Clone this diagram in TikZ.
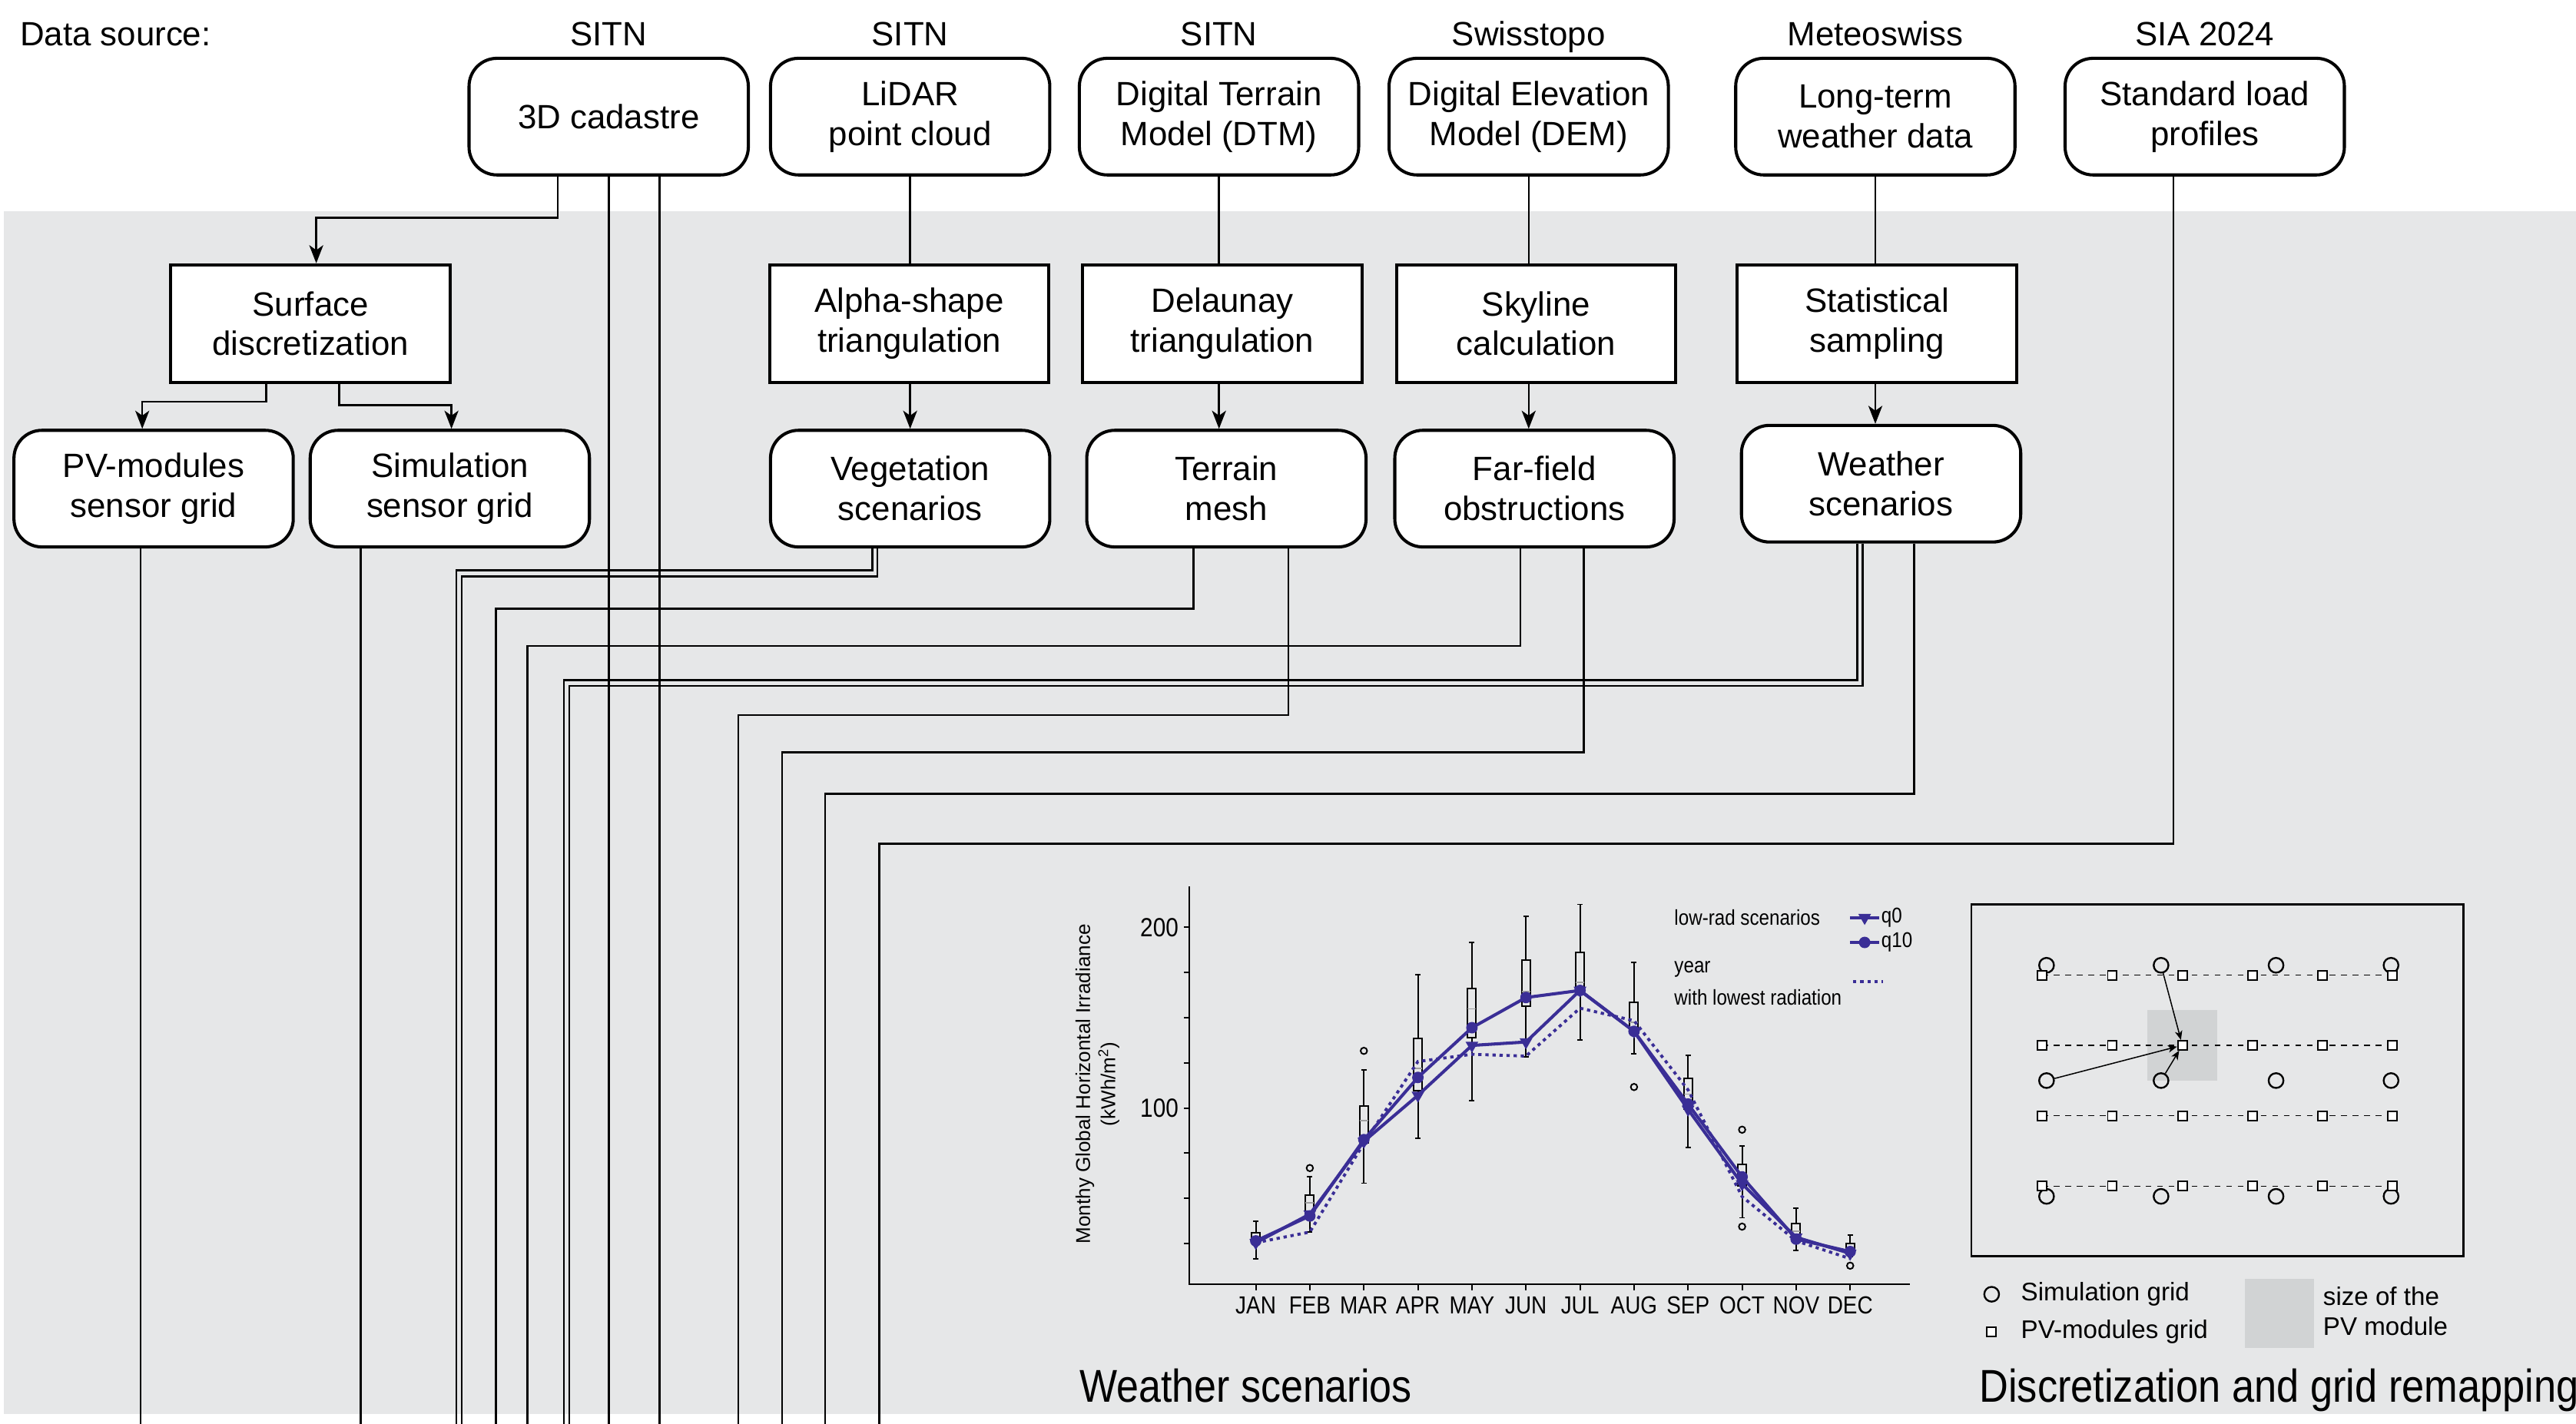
\documentclass[tikz,border=0pt]{standalone}
\usepackage{fontspec}
\setmainfont{Liberation Sans}
\usetikzlibrary{arrows.meta,shapes.geometric}
\definecolor{bgc}{HTML}{E6E7E8}
\definecolor{modc}{HTML}{D1D3D4}
\definecolor{serc}{HTML}{3A2E96}
\definecolor{medc}{HTML}{A0A0A0}
\newcommand\fsMain{\fontsize{20.5}{24.2}\selectfont}
\newcommand\fsTick{\fontsize{16}{18}\selectfont}
\newcommand\fsMon{\fontsize{15}{17}\selectfont}
\newcommand\fsLeg{\fontsize{13}{15}\selectfont}
\newcommand\fsGl{\fontsize{15.5}{18}\selectfont}
\newcommand\fsTitle{\fontsize{28}{32}\selectfont}
\newcommand\fsYl{\fontsize{12.2}{15.3}\selectfont}
\newcommand\narrow[1]{\scalebox{0.87}[1]{#1}}
% boxplot: month, whisker low, box low, median, box high, whisker high
\newcommand\bxplot[6]{%
  \draw[whisk] (#1,#2) -- (#1,#3) (#1,#5) -- (#1,#6)
        (#1-0.05,#2) -- (#1+0.05,#2) (#1-0.05,#6) -- (#1+0.05,#6);
  \draw[bxs] (#1-0.078,#3) rectangle (#1+0.078,#5);
  \draw[medline] (#1-0.078,#4) -- (#1+0.078,#4);}
\tikzset{
  src/.style={draw, line width=1.9pt, rounded corners=17pt, fill=white,
    minimum width=170pt, minimum height=71pt, align=center, font=\fsMain, inner sep=0pt},
  proc/.style={draw, line width=1.9pt, fill=white,
    minimum width=170pt, minimum height=71.5pt, align=center, font=\fsMain, inner sep=0pt},
  lbl/.style={font=\fsMain, inner sep=0pt},
  conn/.style={line width=1.2pt},
  arr/.style={conn, -{Stealth[length=11pt,width=8.5pt,inset=3pt]}},
  whisk/.style={line width=0.9pt},
  bxs/.style={line width=0.9pt},
  medline/.style={line width=0.8pt, medc},
  ser/.style={line width=1.9pt, serc},
  serdot/.style={line width=1.8pt, serc, dash pattern=on 2pt off 2.3pt},
  tri/.style={regular polygon, regular polygon sides=3, shape border rotate=180,
    fill=serc, minimum size=9pt, inner sep=0pt},
  dot/.style={circle, fill=serc, minimum size=7pt, inner sep=0pt},
  outl/.style={line width=0.9pt},
  sq/.style={draw, fill=white, line width=0.9pt, minimum size=5.6pt, inner sep=0pt, shape=rectangle},
  ci/.style={draw, circle, line width=1.1pt, minimum size=9pt, inner sep=0pt},
  gdash/.style={line width=0.6pt, dash pattern=on 3.5pt off 3.5pt},
  garr/.style={line width=0.7pt, -{Stealth[length=5.5pt,width=4.5pt,inset=1.5pt]}},
}
\begin{document}
\begin{tikzpicture}[x=1pt,y=-1pt]
\useasboundingbox (0,0) rectangle (1568,867);
\fill[bgc] (2.2,128.5) rectangle (1568,861);

% ---------- top row: data sources ----------
\node[lbl, anchor=base west] (dsrc) at (12,28) {Data source:};
\node[src] (cad) at (370.5,71) {3D cadastre};
\node[src] (lidar) at (554,71) {LiDAR\\point cloud};
\node[src] (dtm) at (742,71) {Digital Terrain\\Model (DTM)};
\node[src] (dem) at (930.5,71) {Digital Elevation\\Model (DEM)};
\node[src] (wdata) at (1141.5,71) {Long-term\\weather data};
\node[src] (sia) at (1342,71) {Standard load\\profiles};
\node[lbl, anchor=base] (lcad) at (370.5,28) {SITN};
\node[lbl, anchor=base] (llid) at (554,28) {SITN};
\node[lbl, anchor=base] (ldtm) at (742,28) {SITN};
\node[lbl, anchor=base] (ldem) at (930.5,28) {Swisstopo};
\node[lbl, anchor=base] (lwd) at (1141.5,28) {Meteoswiss};
\node[lbl, anchor=base] (lsia) at (1342,28) {SIA 2024};

% ---------- middle row: processing ----------
\node[proc] (surf) at (189,197) {Surface\\discretization};
\node[proc] (alpha) at (553.5,197) {Alpha-shape\\triangulation};
\node[proc] (dela) at (744,197) {Delaunay\\triangulation};
\node[proc] (sky) at (935,197) {Skyline\\calculation};
\node[proc] (stat) at (1142.5,197) {Statistical\\sampling};

% ---------- third row: products ----------
\node[src] (pv) at (93.5,297.5) {PV-modules\\sensor grid};
\node[src] (sim) at (273.8,297.5) {Simulation\\sensor grid};
\node[src] (veg) at (554,297.5) {Vegetation\\scenarios};
\node[src] (ter) at (746.5,297.5) {Terrain\\mesh};
\node[src] (far) at (934,297.5) {Far-field\\obstructions};
\node[src] (wsc) at (1145,294.5) {Weather\\scenarios};

% ---------- connector helper coordinates ----------
\coordinate (bot) at (0,867);
\coordinate (kc) at (192.5,132.5);
\coordinate (kp) at (86.6,244.6);
\coordinate (ks) at (274.8,246.6);
\coordinate (kv1) at (277.7,347.3);
\coordinate (kv2) at (281,351);
\coordinate (kt1) at (301.9,370.7);
\coordinate (kf1) at (321,393.3);
\coordinate (kw1) at (343.3,414);
\coordinate (kw2) at (346.6,417.5);
\coordinate (kt2) at (449.3,435.4);
\coordinate (kf2) at (476,458);
\coordinate (kw3) at (502.3,483.2);
\coordinate (ksia) at (535.3,513.6);
\coordinate (epv) at (85.5,867);
\coordinate (esim) at (219.5,867);
\coordinate (ec1) at (370.5,867);
\coordinate (ec2) at (401.5,867);

\draw[arr] ([xshift=-31pt]cad.south) |- (kc) -- (kc |- surf.north);
\draw[arr] ([xshift=-27pt]surf.south) |- (kp) -- (kp |- pv.north);
\draw[arr] ([xshift=17.5pt]surf.south) |- (ks) -- (ks |- sim.north);
\draw[conn] (lidar.south) -- (lidar.south |- alpha.north);
\draw[arr] (alpha.south -| lidar.south) -- (lidar.south |- veg.north);
\draw[conn] (dtm.south) -- (dtm.south |- dela.north);
\draw[arr] (dela.south -| dtm.south) -- (dtm.south |- ter.north);
\draw[conn] (dem.south) -- (dem.south |- sky.north);
\draw[arr] (sky.south -| dem.south) -- (dem.south |- far.north);
\draw[conn] (wdata.south) -- (wdata.south |- stat.north);
\draw[arr] (stat.south -| wdata.south) -- (wdata.south |- wsc.north);

\draw[conn] (pv.south -| epv) -- (epv);
\draw[conn] (sim.south -| esim) -- (esim);
\draw[conn] (cad.south -| ec1) -- (ec1);
\draw[conn] (cad.south -| ec2) -- (ec2);
\draw[conn] ([xshift=-23pt]veg.south) |- (kv1) -- (kv1 |- bot);
\draw[conn] ([xshift=-20pt]veg.south) |- (kv2) -- (kv2 |- bot);
\draw[conn] ([xshift=-20pt]ter.south) |- (kt1) -- (kt1 |- bot);
\draw[conn] ([xshift=-8.6pt]far.south) |- (kf1) -- (kf1 |- bot);
\draw[conn] ([xshift=-14.6pt]wsc.south) |- (kw1) -- (kw1 |- bot);
\draw[conn] ([xshift=-11.3pt]wsc.south) |- (kw2) -- (kw2 |- bot);
\draw[conn] ([xshift=37.7pt]ter.south) |- (kt2) -- (kt2 |- bot);
\draw[conn] ([xshift=30.1pt]far.south) |- (kf2) -- (kf2 |- bot);
\draw[conn] ([xshift=20.2pt]wsc.south) |- (kw3) -- (kw3 |- bot);
\draw[conn] ([xshift=-19pt]sia.south) |- (ksia) -- (ksia |- bot);

% ---------- chart: weather scenarios ----------
\node[font=\fsYl, align=center, rotate=90, inner sep=0pt] (ylab) at (668,660)
  {Monthy Global Horizontal Irradiance\\(kWh/m\textsuperscript{2})};
\node[font=\fsTick, anchor=base east, inner sep=0pt] (t200) at (717.5,570.3) {\narrow{200}};
\node[font=\fsTick, anchor=base east, inner sep=0pt] (t100) at (717.5,680.4) {\narrow{100}};
\begin{scope}[shift={(731.5pt,-784.7pt)}, x=32.89pt, y=1.101pt]
  \draw[line width=1pt] (-0.231,222.5) -- (-0.231,2.54) -- (13.1,2.54);
  \foreach \v in {25,50,...,200} \draw[line width=0.9pt] (-0.231,\v) -- ++(-3.4pt,0);
  \foreach \i/\m in {1/JAN,2/FEB,3/MAR,4/APR,5/MAY,6/JUN,7/JUL,8/AUG,9/SEP,10/OCT,11/NOV,12/DEC} {
    \draw[line width=0.9pt] (\i,2.54) -- ++(0,-3.5pt);
    \node[font=\fsMon, anchor=base, inner sep=0pt] (m\i) at (\i,-13.8) {\narrow{\m}};
  }
  \bxplot{1}{16.7}{25.5}{28.5}{31}{37.3}
  \bxplot{2}{31.4}{41.3}{47.5}{51.7}{61.9}
  \bxplot{3}{58.4}{80.5}{92.9}{101.2}{121.2}
  \bxplot{4}{83.1}{109.4}{121.8}{138.5}{173.9}
  \bxplot{5}{104.1}{138.9}{154.8}{166}{191.6}
  \bxplot{6}{128.3}{156.2}{164.4}{181.7}{205.9}
  \bxplot{7}{137.5}{165}{169.5}{186.2}{212.6}
  \bxplot{8}{129.9}{142.4}{147.3}{158.5}{180.7}
  \bxplot{9}{78.2}{99.2}{107.7}{116.5}{129.1}
  \bxplot{10}{39.3}{57}{63.9}{68.8}{79}
  \bxplot{11}{21.2}{28.5}{32}{36.3}{44.6}
  \bxplot{12}{17.7}{19.6}{22.6}{25}{29.9}
  \foreach \i/\v in {2/66.8,3/131.6,8/111.6,10/88,10/34.4,12/12.8}
    \draw[outl] (\i,\v) circle[radius=2pt];
  \draw[serdot] plot coordinates {(1,25.5) (2,31.4) (3,80.5) (4,125.7) (5,129.7) (6,128.7)
    (7,155.2) (8,148.3) (9,110) (10,51) (11,26.5) (12,16.7)};
  \draw[ser] plot coordinates {(1,25.5) (2,41.3) (3,81.5) (4,107) (5,134.6) (6,136.5)
    (7,165) (8,142.4) (9,99.2) (10,58) (11,28.5) (12,19.6)};
  \draw[ser] plot coordinates {(1,26.5) (2,40.3) (3,82.5) (4,116.9) (5,144.4) (6,161.1)
    (7,165) (8,142.4) (9,102.2) (10,61.9) (11,27.5) (12,20.6)};
  \foreach \i/\v in {1/25.5,2/41.3,3/81.5,4/107,5/134.6,6/136.5,7/165,8/142.4,9/99.2,10/58,11/28.5,12/19.6}
    \node[tri] at (\i,\v) {};
  \foreach \i/\v in {1/26.5,2/40.3,3/82.5,4/116.9,5/144.4,6/161.1,7/165,8/142.4,9/102.2,10/61.9,11/27.5,12/20.6}
    \node[dot] at (\i,\v) {};
\end{scope}
% chart legend
\node[font=\fsLeg, anchor=west, inner sep=0pt] (lg1) at (1019,558.7) {\narrow{low-rad scenarios}};
\node[font=\fsLeg, anchor=west, inner sep=0pt] (lg2) at (1019,590) {\narrow{year}};
\node[font=\fsLeg, anchor=west, inner sep=0pt] (lg3) at (1019,607.4) {\narrow{with lowest radiation}};
\draw[ser] (1126,558.7) -- (1144,558.7);
\node[tri] (lq0) at (1135,558.7) {};
\node[font=\fsLeg, anchor=west, inner sep=0pt] (tq0) at (1145,558.7) {\narrow{q0}};
\draw[ser] (1126,573.8) -- (1144,573.8);
\node[dot] (lq10) at (1135,573.8) {};
\node[font=\fsLeg, anchor=west, inner sep=0pt] (tq10) at (1145,573.8) {\narrow{q10}};
\draw[serdot] (1128,597.6) -- (1146,597.6);
\node[anchor=base west, inner sep=0pt] (tw) at (657,853.5)
  {\scalebox{0.868}[1]{\fsTitle Weather scenarios}};

% ---------- grid remapping panel ----------
\draw[line width=1.3pt] (1200,550.8) rectangle (1499.3,764.9);
\fill[modc] (1307,615.1) rectangle (1349.8,657.9);
\foreach \y in {593.8,636.4,679.3,722.1}
  \draw[gdash] (1243.1,\y) -- (1456.3,\y);
\foreach \r/\y in {1/587.7,2/657.9,3/728.4}
  \foreach \c/\x in {1/1245.7,2/1315.4,3/1385.4,4/1455.4}
    \node[ci] (c\r\c) at (\x,\y) {};
\foreach \r/\y in {1/593.8,2/636.4,3/679.3,4/722.1}
  \foreach \c in {0,...,5}
    \node[sq] (s\r\c) at ({1243.1+42.64*\c},\y) {};
\draw[garr] (c12) -- (s22);
\draw[garr] (c21) -- (s22);
\draw[garr] (c22) -- (s22);
% legend
\node[ci] (lci) at (1212.3,788) {};
\node[font=\fsGl, anchor=west, inner sep=0pt] (lsim) at (1230,788) {Simulation grid};
\node[sq] (lsq) at (1212.3,811) {};
\node[font=\fsGl, anchor=west, inner sep=0pt] (lpvg) at (1230,811) {PV-modules grid};
\fill[modc] (1366.3,778.6) rectangle (1408.3,820.7);
\node[font=\fsGl, anchor=west, inner sep=0pt] (lsz1) at (1413.9,789.4) {size of the};
\node[font=\fsGl, anchor=west, inner sep=0pt] (lsz2) at (1413.9,807.4) {PV module};
\node[anchor=base west, inner sep=0pt] (td) at (1204.6,853.5)
  {\scalebox{0.875}[1]{\fsTitle Discretization and grid remapping}};
\end{tikzpicture}
\end{document}
